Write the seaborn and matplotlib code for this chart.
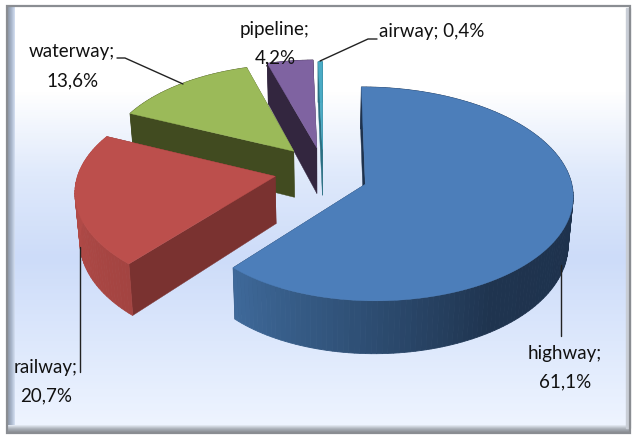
import numpy as np
import pandas as pd
import matplotlib
matplotlib.use("Agg")
import matplotlib.pyplot as plt
import seaborn as sns
from matplotlib.patches import Rectangle

modes = ["highway", "railway", "waterway", "pipeline", "airway"]
shares = [61.1, 20.7, 13.6, 4.2, 0.4]
share_labels = ["61,1%", "20,7%", "13,6%", "4,2%", "0,4%"]
top_colors = ["#4c7eba", "#bc4f4c", "#9bba59", "#7f63a1", "#4aabc5"]
cut_colors = ["#1e324d", "#7a3230", "#414b20", "#33263f", "#2a6f82"]
side_stops = [
    ["#1e324d", "#1e324d", "#1e324d", "#1e324d", "#1f344f", "#2f5076", "#3f6a9b"],
    ["#a34441", "#b04a47", "#b84d4a"],
    ["#414b20", "#414b20"],
    ["#33263f", "#33263f"],
    ["#2a6f82", "#2a6f82"],
]
radius_start = [1.0, 1.0, 0.93, 0.95, 0.95]
radius_end = [0.95, 0.94, 0.93, 0.95, 0.95]
radius_power = [8, 1, 1, 1, 1]
shift_x = [0, 0, 3, 3, 2]
shift_y = [0, -5, -7, -5, -3]

# projection of the tilted pie onto the picture
CX, CY, RX, RY, PERSP, EXPLODE = 321, 176, 205, 105, 0.095, 0.228
DEPTH, DEPTH_SLOPE, BOTTOM_PINCH = 47, 5.5, 0.02

df = pd.DataFrame({"mode": modes, "share": shares})
df["start"] = df["share"].cumsum().shift(fill_value=0) / df["share"].sum() * 2 * np.pi
df["end"] = df["share"].cumsum() / df["share"].sum() * 2 * np.pi
df["mid"] = (df["start"] + df["end"]) / 2


def project(x, y, i, lower=False):
    den = 1 + PERSP * y
    px = CX + RX * x / den + shift_x[i]
    py = CY - RY * y / den + shift_y[i]
    if lower:
        py = py + DEPTH - DEPTH_SLOPE * y
        px = px - (px - CX) * BOTTOM_PINCH
    return px, py


sns.set_theme(style="white")
plt.rcParams["font.family"] = ["Lato", "DejaVu Sans"]

fig = plt.figure(figsize=(6.32, 4.36), dpi=100)
ax = fig.add_axes([0, 0, 1, 1])
ax.axis("off")

# background panel and bevelled frame
bg = sns.blend_palette(["#ffffff", "#ffffff", "#dfe9fb", "#cddcf9", "#dde8fc", "#eef4ff"], 200)
ax.imshow(np.array(bg)[:, None, :], extent=(8, 629, 426, 8), aspect="auto", zorder=0, interpolation="bilinear")
ax.imshow(np.array(sns.blend_palette(["#8e99a8", "#a9b6cb", "#d5e0f2"], 40))[None, :, :],
          extent=(8, 15, 426, 8), aspect="auto", zorder=1)
ax.imshow(np.array(sns.blend_palette(["#e6ecf6", "#a8adb5", "#85898f"], 40))[:, None, :],
          extent=(8, 630, 433, 425), aspect="auto", zorder=1)
ax.add_patch(Rectangle((626, 8), 4, 420, color="#c9ced6", zorder=1))
ax.add_patch(Rectangle((7, 6), 623, 427, fill=False, ec="#8a8d92", lw=1.6, zorder=2))
ax.set_xlim(0, 632)
ax.set_ylim(436, 0)

# back-to-front painting order
order = [3, 4, 2, 1, 0]
for rank, i in enumerate(order):
    row = df.iloc[i]
    ex, ey = EXPLODE * np.sin(row["mid"]), EXPLODE * np.cos(row["mid"])
    n = max(int((row["end"] - row["start"]) * 40), 3)
    th = np.linspace(row["start"], row["end"], n)
    t = np.linspace(0, 1, n) ** radius_power[i]
    r = radius_start[i] + (radius_end[i] - radius_start[i]) * t
    ux, uy = ex + r * np.sin(th), ey + r * np.cos(th)
    px, py = project(ux, uy, i)
    qx, qy = project(ux, uy, i, lower=True)
    vx, vy = project(ex, ey, i)
    wx, wy = project(ex, ey, i, lower=True)
    z = 5 + rank * 3
    # the two cut faces
    for k in (-1, 0):
        ax.fill([vx, px[k], qx[k], wx], [vy, py[k], qy[k], wy],
                color=cut_colors[i], lw=0.3, zorder=z)
    # outer wall, shaded along the arc
    shades = sns.blend_palette(side_stops[i], n)
    for j in range(n - 1):
        ax.fill([px[j], px[j + 1], qx[j + 1], qx[j]],
                [py[j], py[j + 1], qy[j + 1], qy[j]],
                color=shades[j], lw=0.6, zorder=z + 1)
    # top face
    ax.fill(np.r_[vx, px], np.r_[vy, py], color=top_colors[i], lw=0.3, zorder=z + 2)

# labels
FS = 13.5
label_xy = {"highway": (565, 353), "railway": (46, 367), "waterway": (72, 52), "pipeline": (275, 29)}
for name, pct in zip(modes, share_labels):
    if name == "airway":
        ax.text(379, 32, f"{name}; {pct}", ha="left", va="center", fontsize=FS, color="#111111", zorder=30)
    else:
        x, y = label_xy[name]
        ax.text(x, y, f"{name};", ha="center", va="center", fontsize=FS, color="#111111", zorder=30)
        ax.text(x, y + 28.5, pct, ha="center", va="center", fontsize=FS, color="#111111", zorder=30)

leaders = [
    ([117, 125, 183], [58, 58, 84]),
    ([377, 368, 320], [39, 39, 61]),
    ([80, 80], [247, 372]),
    ([561, 561], [265, 336]),
]
for lx, ly in leaders:
    ax.plot(lx, ly, color="#222222", lw=1.0, zorder=31)

fig.savefig("out.png", dpi=100)
